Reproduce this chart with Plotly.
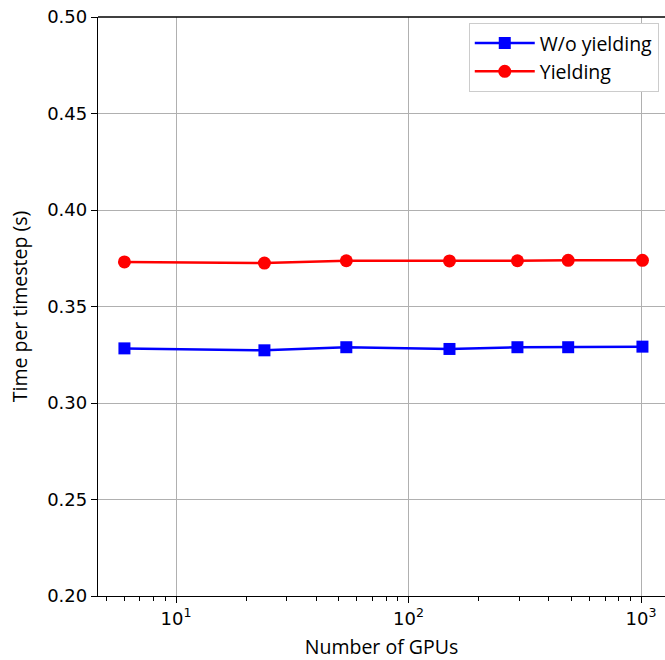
import plotly.graph_objects as go

gpus = [6, 24, 54, 150, 294, 486, 1014]
wo_yielding = [0.3283, 0.3273, 0.3289, 0.3280, 0.3289, 0.3289, 0.3292]
yielding = [0.3731, 0.3725, 0.3737, 0.3736, 0.3737, 0.3739, 0.3739]
y_ticks = [0.20, 0.25, 0.30, 0.35, 0.40, 0.45, 0.50]
x_ticks = [10, 100, 1000]
x_ticktext = ["10<sup>1</sup>", "10<sup>2</sup>", "10<sup>3</sup>"]

fig = go.Figure()
fig.add_trace(go.Scatter(
    x=gpus, y=wo_yielding, mode="lines+markers", name="W/o yielding",
    line=dict(color="#0000ff", width=2.5),
    marker=dict(symbol="square", size=12, color="#0000ff"),
))
fig.add_trace(go.Scatter(
    x=gpus, y=yielding, mode="lines+markers", name="Yielding",
    line=dict(color="#ff0000", width=2.5),
    marker=dict(symbol="circle", size=13, color="#ff0000"),
))

title_font = dict(family="Open Sans", size=19.5, color="black")
tick_font = dict(family="DejaVu Sans", size=18, color="black")

fig.update_layout(
    width=665, height=660,
    margin=dict(l=98, r=0, t=17, b=64),
    plot_bgcolor="white", paper_bgcolor="white",
    font=dict(family="DejaVu Sans", size=18, color="black"),
    showlegend=True,
    legend=dict(
        x=0.989, y=0.99, xanchor="right", yanchor="top",
        bgcolor="white", bordercolor="#cccccc", borderwidth=1,
        font=title_font, itemwidth=60,
        tracegroupgap=0,
    ),
    shapes=[dict(type="line", xref="paper", yref="paper", x0=0, x1=1, y0=1, y1=1,
                 line=dict(color="black", width=1.3))],
)

fig.update_xaxes(
    type="log", range=[0.6645, 3.103],
    tickvals=x_ticks, ticktext=x_ticktext,
    showline=True, linecolor="black", linewidth=1.3,
    ticks="outside", ticklen=6, tickwidth=1.2, tickcolor="black",
    showgrid=True, gridcolor="#b0b0b0", gridwidth=1.2,
    zeroline=False, automargin=False,
    minor=dict(ticks="outside", ticklen=3.5, tickwidth=1, tickcolor="black",
               dtick="D1", showgrid=False),
    title=dict(text="Number of GPUs", font=title_font, standoff=13),
    tickfont=tick_font,
)
fig.update_yaxes(
    range=[0.2, 0.5], tickvals=y_ticks, ticktext=[f"{v:.2f}" for v in y_ticks],
    showline=True, linecolor="black", linewidth=1.3,
    ticks="outside", ticklen=6, tickwidth=1.2, tickcolor="black",
    showgrid=True, gridcolor="#b0b0b0", gridwidth=1.2,
    zeroline=False, automargin=False,
    title=dict(text="Time per timestep (s)", font=title_font, standoff=14),
    tickfont=tick_font,
)

fig.write_html("out.html")
